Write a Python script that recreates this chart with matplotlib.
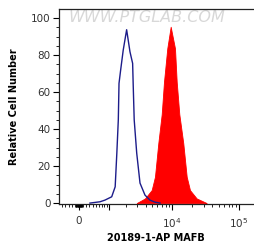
import numpy as np
import matplotlib
matplotlib.use("Agg")
import matplotlib.pyplot as plt

# fluorescence values and relative cell counts
control_x = [317, 645, 832, 1129, 1304, 1394, 1478, 1519, 1620, 1786, 2029,
             2293, 2526, 2583, 2673, 2925, 3288, 3920, 4666, 5550, 6617]
control_y = [0, 0.7, 1.6, 3.4, 8.8, 27, 45, 64.7, 72, 82.7, 93.7,
             81.8, 75.5, 63, 45, 27, 10.8, 4.3, 1.6, 0.5, 0]

mafb_x = [2925, 3920, 4950, 5550, 6230, 7010, 7590, 8500, 9560,
          11090, 11760, 12870, 14760, 16600, 18580, 23390, 33000]
mafb_y = [0, 2.5, 7, 14.2, 32.3, 48, 65.6, 83.6, 95.3,
          83.6, 65.6, 48, 32.3, 14.2, 7, 2.5, 0]

x_major = [0, 1e3, 1e4, 1e5]
x_major_labels = ["0", "", "$10^4$", "$10^5$"]
x_minor = ([-v for v in range(10, 100, 10)] + list(range(10, 100, 10)) +
           [-v for v in range(100, 600, 100)] + list(range(100, 1000, 100)) +
           [k * 1e3 for k in range(2, 10)] + [k * 1e4 for k in range(2, 10)])

fig = plt.figure(figsize=(2.55, 2.46), dpi=100)
ax = fig.add_axes([59 / 255, 42 / 246, 195 / 255, 195 / 246])

ax.set_xscale("asinh", linear_width=820)
ax.fill_between(mafb_x, mafb_y, 0, color="#ff0000", lw=0.6)
ax.plot(control_x, control_y, color="#1c1c8a", lw=1.0)

ax.set_xlim(-608, 167700)
ax.set_ylim(-0.5, 104.9)

ax.set_xticks(x_major)
ax.set_xticklabels(x_major_labels)
ax.set_xticks(x_minor, minor=True)
ax.set_yticks([0, 20, 40, 60, 80, 100])
ax.set_yticks(np.arange(0, 101, 5), minor=True)

ax.tick_params(axis="both", which="major", length=4, width=0.8,
               labelsize=7.5, labelcolor="#333333", pad=2)
ax.tick_params(axis="both", which="minor", length=2, width=0.6)
ax.tick_params(axis="x", which="major", pad=5)

for side in ["left", "bottom", "top"]:
    ax.spines[side].set_linewidth(0.9)
    ax.spines[side].set_color("#222222")
ax.spines["right"].set_visible(False)

ax.set_ylabel("Relative Cell Number", fontsize=7, fontweight="bold", labelpad=9)
fig.text(156 / 255, 8 / 246, "20189-1-AP MAFB", fontsize=7, fontweight="bold",
         ha="center", va="center")

# watermark
ax.text(0.05, 0.955, "WWW.PTGLAB.COM", transform=ax.transAxes, fontsize=11.5,
        color="#d8d8d8", style="italic", va="center", ha="left", zorder=0)

fig.savefig("out.png", dpi=100)
